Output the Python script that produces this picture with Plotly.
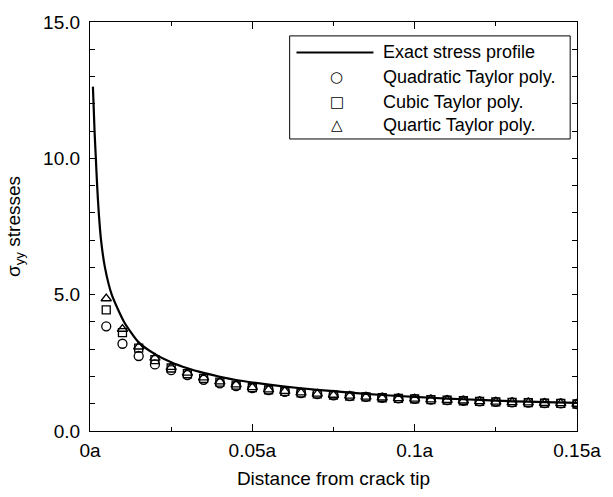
import plotly.graph_objects as go

# Exact stress profile
exact_x = [0.0009, 0.0014, 0.0018, 0.0022, 0.0027, 0.0034, 0.0046, 0.0067, 0.0105,
           0.015, 0.020, 0.025, 0.030, 0.035, 0.040, 0.045, 0.050, 0.060, 0.070,
           0.080, 0.090, 0.100, 0.110, 0.120, 0.130, 0.140, 0.150]
exact_y = [12.63, 11.0, 10.0, 9.0, 8.0, 7.0, 6.0, 5.0, 4.0,
           3.25, 2.82, 2.52, 2.30, 2.13, 1.99, 1.87, 1.78, 1.63, 1.51,
           1.41, 1.32, 1.25, 1.19, 1.14, 1.09, 1.06, 1.03]

# Sample positions for Taylor polynomials
px = [0.005, 0.010, 0.015, 0.020, 0.025, 0.030, 0.035, 0.040, 0.045, 0.050,
      0.055, 0.060, 0.065, 0.070, 0.075, 0.080, 0.085, 0.090, 0.095, 0.100,
      0.105, 0.110, 0.115, 0.120, 0.125, 0.130, 0.135, 0.140, 0.145, 0.150]
quadratic = [3.84, 3.20, 2.75, 2.44, 2.23, 2.05, 1.88, 1.75, 1.65, 1.57,
             1.50, 1.44, 1.39, 1.35, 1.31, 1.28, 1.25, 1.22, 1.20, 1.18,
             1.15, 1.13, 1.11, 1.09, 1.07, 1.05, 1.04, 1.02, 1.01, 0.99]
cubic = [4.44, 3.61, 3.04, 2.62, 2.31, 2.10, 1.93, 1.79, 1.68, 1.59,
         1.51, 1.45, 1.40, 1.36, 1.32, 1.28, 1.25, 1.22, 1.20, 1.18,
         1.15, 1.13, 1.11, 1.09, 1.07, 1.05, 1.04, 1.02, 1.01, 0.99]
quartic = [4.86, 3.74, 3.09, 2.68, 2.34, 2.13, 1.96, 1.81, 1.70, 1.60,
           1.52, 1.46, 1.41, 1.36, 1.32, 1.29, 1.25, 1.22, 1.20, 1.18,
           1.15, 1.13, 1.11, 1.09, 1.07, 1.05, 1.04, 1.02, 1.01, 0.99]

series_names = ["Exact stress profile", "Quadratic Taylor poly.",
                "Cubic Taylor poly.", "Quartic Taylor poly."]
legend_glyphs = ["", "○", "□", "△"]

x_tickvals = [0, 0.05, 0.1, 0.15]
x_ticktext = ["0a", "0.05a", "0.1a", "0.15a"]
y_tickvals = [0, 5, 10, 15]
y_ticktext = ["0.0", "5.0", "10.0", "15.0"]

FONT = "Liberation Sans, Arial, sans-serif"

fig = go.Figure()
fig.add_trace(go.Scatter(x=exact_x, y=exact_y, mode="lines", name=series_names[0],
                         line=dict(color="black", width=2.2, shape="spline", smoothing=0.6)))
fig.add_trace(go.Scatter(x=px, y=quadratic, mode="markers", name=series_names[1],
                         marker=dict(symbol="circle-open", size=9, color="black", line=dict(width=1.3))))
fig.add_trace(go.Scatter(x=px, y=cubic, mode="markers", name=series_names[2],
                         marker=dict(symbol="square-open", size=8, color="black", line=dict(width=1.3))))
fig.add_trace(go.Scatter(x=px, y=quartic, mode="markers", name=series_names[3],
                         marker=dict(symbol="triangle-up-open", size=9, color="black", line=dict(width=1.3))))

axis_common = dict(showline=True, linecolor="black", linewidth=1.2, mirror="ticks",
                   ticks="inside", tickcolor="black", showgrid=False, zeroline=False,
                   tickfont=dict(family=FONT, size=19, color="black"))

fig.update_xaxes(range=[0, 0.15], tickvals=x_tickvals, ticktext=x_ticktext, ticklen=7,
                 ticklabelstandoff=2,
                 minor=dict(ticks="inside", dtick=0.025, tick0=0, ticklen=4, tickcolor="black", showgrid=False),
                 title=dict(text="Distance from crack tip", font=dict(family=FONT, size=19, color="black"), standoff=11),
                 **axis_common)
fig.update_yaxes(range=[0, 15], tickvals=y_tickvals, ticktext=y_ticktext, ticklen=5,
                 ticklabelstandoff=5,
                 minor=dict(ticks="inside", dtick=1, tick0=0, ticklen=5, tickcolor="black", showgrid=False),
                 title=dict(text="σ<sub>yy</sub> stresses", font=dict(family=FONT, size=19, color="#000000"), standoff=17),
                 **axis_common)

# Hand-built legend box (position in paper fractions)
lg_x0, lg_x1, lg_y0, lg_y1 = 0.410, 0.986, 0.714, 0.966
row_y = [0.9256, 0.8656, 0.8056, 0.748]
key_x0, key_x1, key_xc, text_x = 0.424, 0.582, 0.507, 0.598

shapes = [dict(type="rect", xref="paper", yref="paper", x0=lg_x0, x1=lg_x1, y0=lg_y0, y1=lg_y1,
               line=dict(color="black", width=1), fillcolor="white", layer="above"),
          dict(type="line", xref="paper", yref="paper", x0=key_x0, x1=key_x1, y0=row_y[0], y1=row_y[0],
               line=dict(color="black", width=2), layer="above")]
annotations = []
for i, name in enumerate(series_names):
    annotations.append(dict(xref="paper", yref="paper", x=text_x, y=row_y[i], text=name,
                            xanchor="left", yanchor="middle", showarrow=False,
                            font=dict(family=FONT, size=18, color="black")))
    if legend_glyphs[i]:
        annotations.append(dict(xref="paper", yref="paper", x=key_xc, y=row_y[i], text=legend_glyphs[i],
                                xanchor="center", yanchor="middle", showarrow=False,
                                font=dict(family="DejaVu Sans", size=15, color="black")))

fig.update_layout(
    width=613, height=497,
    margin=dict(l=90, r=28, t=16, b=64),
    plot_bgcolor="white", paper_bgcolor="white",
    font=dict(family=FONT, color="black"),
    showlegend=False,
    shapes=shapes,
    annotations=annotations,
)

fig.write_html("out.html")
